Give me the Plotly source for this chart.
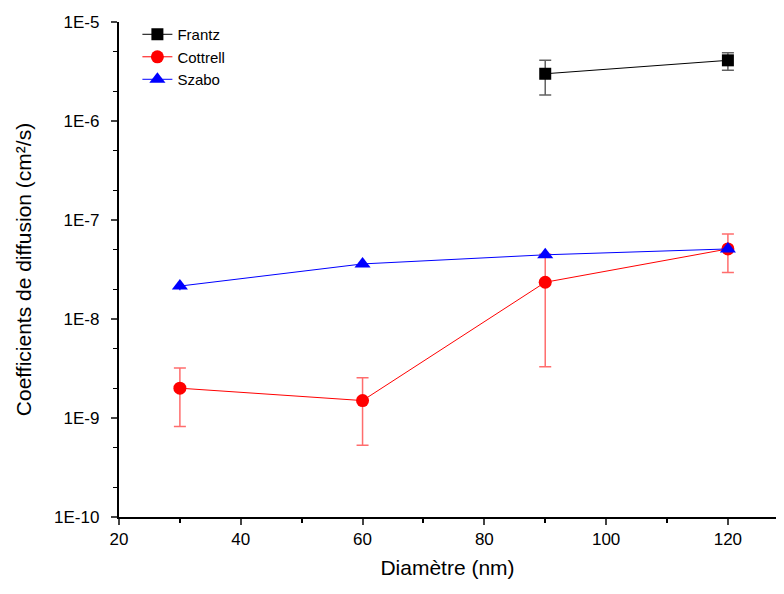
import plotly.graph_objects as go

diam = [30, 60, 90, 120]

frantz_x = [90, 120]
frantz_y = [3.0e-6, 4.1e-6]
frantz_hi = [4.1e-6, 4.9e-6]
frantz_lo = [1.83e-6, 3.25e-6]

cottrell_y = [2.0e-9, 1.5e-9, 2.35e-8, 5.1e-8]
cottrell_hi = [3.2e-9, 2.55e-9, 4.5e-8, 7.2e-8]
cottrell_lo = [8.2e-10, 5.3e-10, 3.3e-9, 2.95e-8]

szabo_y = [2.15e-8, 3.6e-8, 4.45e-8, 5.1e-8]
szabo_hi = [2.3e-8, 3.75e-8, 4.6e-8, 5.3e-8]
szabo_lo = [1.95e-8, 3.35e-8, 4.2e-8, 4.9e-8]

ytick_vals = [1e-10, 1e-9, 1e-8, 1e-7, 1e-6, 1e-5]
ytick_text = ["1E-10", "1E-9", "1E-8", "1E-7", "1E-6", "1E-5"]

def err(y, hi, lo):
    return [h - v for h, v in zip(hi, y)], [v - l for v, l in zip(y, lo)]

fig = go.Figure()

p, m = err(frantz_y, frantz_hi, frantz_lo)
fig.add_trace(go.Scatter(
    x=frantz_x, y=frantz_y, name="Frantz", mode="lines+markers",
    line=dict(color="black", width=1),
    marker=dict(symbol="square", size=12, color="black"),
    error_y=dict(type="data", symmetric=False, array=p, arrayminus=m,
                 color="rgba(80,80,80,0.9)", thickness=1.5, width=6)))

p, m = err(cottrell_y, cottrell_hi, cottrell_lo)
fig.add_trace(go.Scatter(
    x=diam, y=cottrell_y, name="Cottrell", mode="lines+markers",
    line=dict(color="red", width=1),
    marker=dict(symbol="circle", size=13, color="red"),
    error_y=dict(type="data", symmetric=False, array=p, arrayminus=m,
                 color="rgba(255,60,60,0.75)", thickness=1.5, width=6)))

p, m = err(szabo_y, szabo_hi, szabo_lo)
fig.add_trace(go.Scatter(
    x=diam, y=szabo_y, name="Szabo", mode="lines+markers",
    line=dict(color="blue", width=1),
    marker=dict(symbol="triangle-up", size=14, color="blue"),
    error_y=dict(type="data", symmetric=False, array=p, arrayminus=m,
                 color="blue", thickness=1.2, width=0)))

fig.update_layout(
    width=768, height=578,
    margin=dict(l=111, r=0, t=14, b=69, autoexpand=False),
    paper_bgcolor="white", plot_bgcolor="white",
    font=dict(family="Liberation Sans, Arial, sans-serif", color="black", size=17),
    showlegend=True,
    legend=dict(x=0.028, y=1.008, xanchor="left", yanchor="top",
                bgcolor="rgba(0,0,0,0)", font=dict(size=15),
                tracegroupgap=0, itemsizing="trace"),
    xaxis=dict(range=[20, 127.9], tickmode="array", tickvals=[20, 40, 60, 80, 100, 120],
               automargin=False,
               showgrid=False, zeroline=False, showline=True, linecolor="black",
               linewidth=1.5, ticks="outside", ticklen=6, tickwidth=1.5,
               tickfont=dict(size=17),
               minor=dict(tickvals=[30, 50, 70, 90, 110], ticks="outside", ticklen=4,
                          tickwidth=1.5, tickcolor="black"),
               title=dict(text="Diamètre (nm)", font=dict(size=21), standoff=12)),
    yaxis=dict(type="log", range=[-10, -5], tickmode="array",
               tickvals=ytick_vals, ticktext=[t + "\u2002" for t in ytick_text],
               automargin=False,
               showgrid=False, zeroline=False, showline=True, linecolor="black",
               linewidth=1.5, ticks="outside", ticklen=6, tickwidth=1.5,
               tickfont=dict(size=17),
               minor=dict(ticks="outside", ticklen=4, tickwidth=1.2, tickcolor="black",
                          showgrid=False),
               title=dict(text="Coefficients de diffusion (cm²/s)", font=dict(size=21),
                          standoff=17)),
)

fig.write_html("out.html")
